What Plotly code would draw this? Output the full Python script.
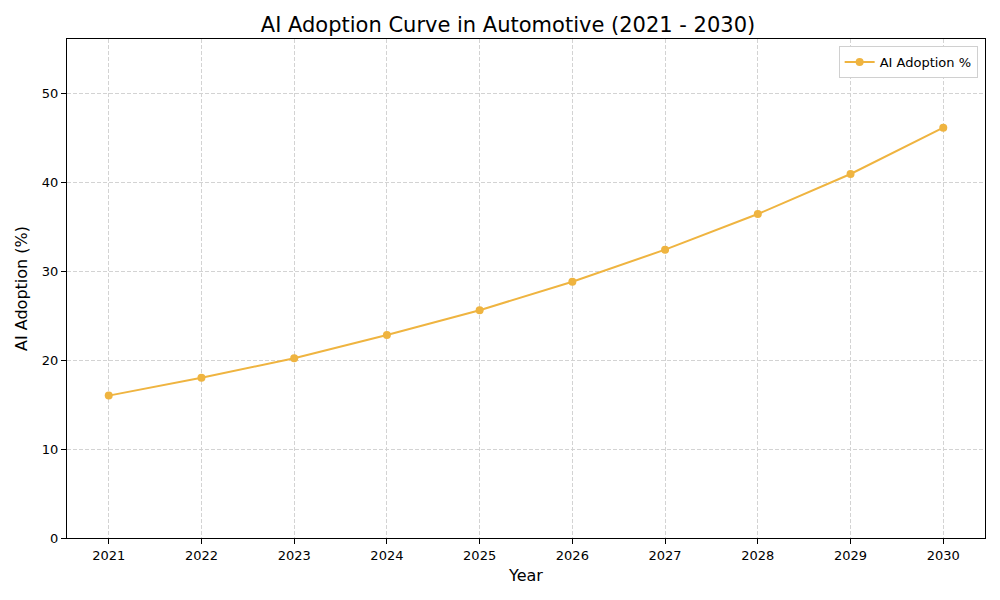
import plotly.graph_objects as go

# values
years = [2021, 2022, 2023, 2024, 2025, 2026, 2027, 2028, 2029, 2030]
adoption = [16.0, 18.0, 20.2, 22.8, 25.6, 28.8, 32.4, 36.4, 40.9, 46.1]

line_colour = "#EFB440"
font_name = "DejaVu Sans"

fig = go.Figure()
fig.add_trace(go.Scatter(x=years, y=adoption, name="AI Adoption %",
                         mode="lines+markers", showlegend=True,
                         line=dict(color=line_colour, width=2),
                         marker=dict(color=line_colour, size=8)))

# the page puts the figure 8px in from the corner, so margins make up for it
fig.update_layout(
    width=1000, height=600,
    plot_bgcolor="white", paper_bgcolor="white",
    margin=dict(l=59, r=23, t=31, b=70, autoexpand=False),
    font=dict(family=font_name, size=13, color="black"),
    title=dict(text="AI Adoption Curve in Automotive (2021 - 2030)",
               x=0.5, xanchor="center", y=0.973, yanchor="middle",
               font=dict(size=21, color="black")),
    showlegend=True,
    legend=dict(x=0.992, y=0.986, xanchor="right", yanchor="top",
                bordercolor="#d0d0d0", borderwidth=1, bgcolor="white",
                font=dict(size=13)),
)

fig.update_xaxes(title_text="Year", title_font=dict(size=16), title_standoff=8,
                 range=[2020.55, 2030.45], tickmode="array", tickvals=years,
                 showline=True, linecolor="black", linewidth=1, mirror=True,
                 ticks="outside", ticklen=5, tickcolor="black",
                 showgrid=True, gridcolor="#d3d3d3", griddash="4px,2px", gridwidth=1,
                 zeroline=False)
fig.update_yaxes(title_text="AI Adoption (%)", title_font=dict(size=16), title_standoff=10,
                 range=[0, 56.07], tickvals=[0, 10, 20, 30, 40, 50],
                 showline=True, linecolor="black", linewidth=1, mirror=True,
                 ticks="outside", ticklen=5, tickcolor="black",
                 showgrid=True, gridcolor="#d3d3d3", griddash="4px,2px", gridwidth=1,
                 zeroline=False)

fig.write_html("out.html")
